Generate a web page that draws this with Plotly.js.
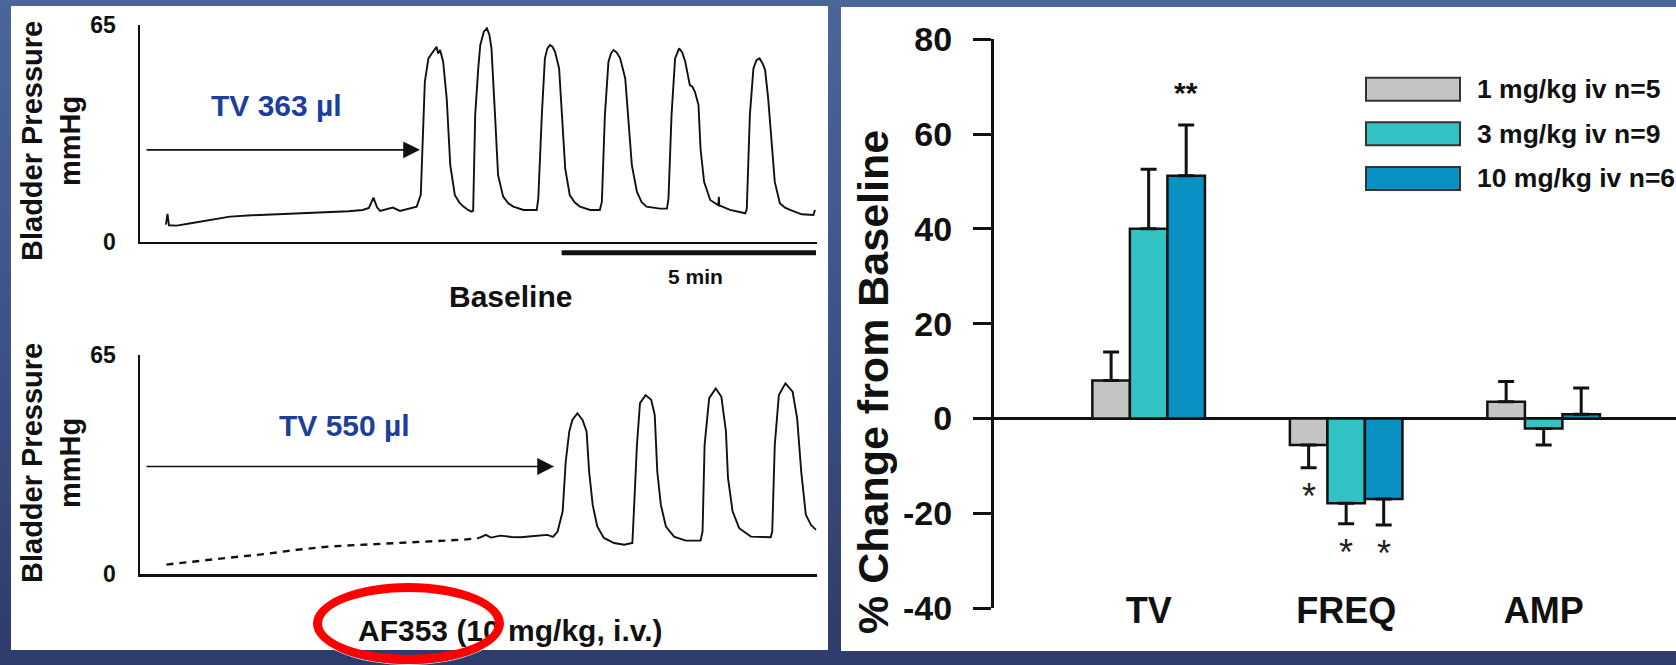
<!DOCTYPE html>
<html><head><meta charset="utf-8">
<script src="https://cdn.plot.ly/plotly-3.0.1.min.js"></script>
<style>
html,body{margin:0;padding:0;width:1676px;height:665px;overflow:hidden;}
body{background:linear-gradient(to bottom,#4b6699 0%,#3f5589 45%,#2e3b6b 100%);position:relative;}
#chart{position:absolute;left:0;top:0;width:1676px;height:665px;}
#ring{position:absolute;left:313px;top:583px;width:191px;height:81px;box-sizing:border-box;border:9px solid #ff0000;border-radius:50%;pointer-events:none;box-shadow:0 0 0 1px rgba(255,255,255,0.85);}
</style></head><body>
<div id="chart"></div><div id="ring"></div>
<script>
// ---------- Data: cystometry traces (time in min, pressure in mmHg) ----------
const baselineTime = [0.51,0.54,0.57,0.72,1.00,1.30,1.77,2.20,2.75,3.20,3.74,4.10,4.38,4.50,4.59,4.66,4.72,4.85,4.97,5.11,5.30,5.44,
  5.52,5.56,5.60,5.67,5.72,5.77,5.83,5.86,5.90,5.96,6.03,6.10,6.19,6.28,6.36,6.45,6.52,
  6.55,6.59,6.65,6.69,6.76,6.82,6.87,6.91,6.98,7.04,7.14,7.24,7.34,7.54,7.80,
  7.83,7.90,7.96,8.01,8.06,8.11,8.16,8.24,8.29,8.36,8.45,8.55,8.65,8.85,9.04,
  9.08,9.14,9.21,9.26,9.31,9.37,9.44,9.54,9.60,9.67,9.77,9.86,9.96,10.22,10.36,
  10.39,10.45,10.52,10.60,10.66,10.72,10.81,10.86,10.91,10.98,11.02,11.09,11.21,11.37,11.38,11.39,11.60,11.90,
  11.93,11.99,12.06,12.12,12.18,12.24,12.29,12.35,12.42,12.48,12.58,12.68,12.78,13.01,13.24,13.27];
const baselinePressure = [5.2,8.4,5.0,4.9,5.6,6.4,7.6,8.0,8.4,8.6,8.9,9.2,9.6,10.2,13.3,10.4,9.3,9.8,10.3,9.3,10.0,10.6,
  14.1,30,48,55,56,57,58.5,56.5,57.5,54,43,23,14,11.8,10.6,9.6,9.1,
  9.4,38,52,59,63,64,62,58,38,20,13.6,11.6,10.6,9.6,9.6,
  13,38,55,58,59,58.5,57,52,38,22,14,11.8,10.6,9.6,9.6,
  12,38,54,56.5,57.5,56.8,55,49,38,23,15,12,10.6,10,10,
  13,38,55,58,56.8,54,47,46.5,45,41,28,18,12.6,11,13.5,11,9.6,8.6,
  10,38,52,54.5,55,53.5,51.5,43,30,18,11.6,10.3,9.6,8.3,8.1,9.6];

// AF353 10 mg/kg: filling phase (sparsely sampled, dashed) then voiding contractions
const drugFillTime = [0.52,1.13,1.78,2.44,3.09,3.75,4.40,5.06,5.72,6.37,6.67];
const drugFillPressure = [2.8,3.9,4.9,5.9,7.2,8.2,8.7,9.2,9.7,10.2,10.7];
const drugTime = [6.67,6.70,6.80,6.90,7.09,7.30,7.49,7.75,8.01,8.12,8.21,
  8.31,8.37,8.44,8.50,8.60,8.70,8.78,8.83,8.90,8.99,9.12,9.32,9.52,9.68,
  9.71,9.77,9.83,9.94,10.05,10.12,10.17,10.24,10.34,10.50,10.73,11.02,
  11.06,11.10,11.19,11.32,11.43,11.52,11.56,11.65,11.78,12.01,12.40,
  12.43,12.48,12.56,12.69,12.83,12.92,13.00,13.09,13.19,13.29];
const drugPressure = [10.7,10.9,11.6,10.8,11.4,11.0,10.9,11.3,11.6,11.0,12.6,
  18.6,33.4,42.3,45.7,47.7,45.7,42.3,30.4,20.5,14.1,10.7,9.2,8.7,9.2,
  18.6,38.3,50.7,53.1,51.7,47.2,30.4,20.5,14.1,11.1,9.9,9.9,
  12.6,38.3,52.2,55.1,52.6,42.3,28.5,18.6,13.6,11.1,10.9,
  12.6,38.3,53.1,56.6,54.1,46.2,30.4,17.6,14.6,13.1];
const pressureTicks = [0, 65];
const scaleBarMinutes = 5;
const baselineVolume = 'TV 363 µl';
const drugVolume = 'TV 550 µl';

// ---------- Data: % change from baseline ----------
const categories = ['TV', 'FREQ', 'AMP'];
const doseNames = ['1 mg/kg iv n=5', '3 mg/kg iv n=9', '10 mg/kg iv n=6'];
const dose1Mean = [8.0, -5.6, 3.5];
const dose1Sem  = [6.0, 4.8, 4.3];
const dose3Mean = [40.0, -17.9, -2.1];
const dose3Sem  = [12.6, 4.3, 3.5];
const dose10Mean = [51.2, -17.0, 0.9];
const dose10Sem  = [10.7, 5.5, 5.5];
const dose1Sig  = ['', '*', ''];
const dose3Sig  = ['', '*', ''];
const dose10Sig = ['**', '*', ''];
const percentTicks = [-40, -20, 0, 20, 40, 60, 80];
const percentTickText = ['-40', '-20', '0', '20', '40', '60', '80'];

// ---------- Styling / layout ----------
const W = 1676, H = 665;
const px = x => x / W, py = y => 1 - y / H;
const FONT = '"Liberation Sans", Arial, Helvetica, sans-serif';
const doseColors = ['#c4c4c4', '#31c3c3', '#0891c2'];
const ink = '#111111';

const means = [dose1Mean, dose3Mean, dose10Mean];
const sems = [dose1Sem, dose3Sem, dose10Sem];
const sigs = [dose1Sig, dose3Sig, dose10Sig];

const traces = [
  {x: baselineTime, y: baselinePressure, xaxis: 'x', yaxis: 'y', type: 'scatter', mode: 'lines',
   line: {color: ink, width: 1.9}, showlegend: false, hoverinfo: 'skip'},
  {x: drugFillTime, y: drugFillPressure, xaxis: 'x2', yaxis: 'y2', type: 'scatter', mode: 'lines',
   line: {color: ink, width: 2.4, dash: '7px,6px'}, showlegend: false, hoverinfo: 'skip'},
  {x: drugTime, y: drugPressure, xaxis: 'x2', yaxis: 'y2', type: 'scatter', mode: 'lines',
   line: {color: ink, width: 1.9}, showlegend: false, hoverinfo: 'skip'}
];
doseNames.forEach((name, i) => {
  const v = means[i], e = sems[i];
  traces.push({
    type: 'bar', name: name, x: categories, y: v, xaxis: 'x3', yaxis: 'y3',
    marker: {color: doseColors[i], line: {color: ink, width: 2.5}},
    error_y: {type: 'data', symmetric: false,
      array: v.map((d, j) => d >= 0 ? e[j] : 0),
      arrayminus: v.map((d, j) => d < 0 ? e[j] : 0),
      color: ink, thickness: 3, width: 8},
    showlegend: false, hoverinfo: 'skip'
  });
});

const tAxisRange = [0, 13.31];
const bold = (size, color) => ({family: FONT, size: size, color: color || ink, weight: 700});

// category geometry for the grouped bars
const catRange = [-0.783, 2.67];
const bargap = 0.43;
const catPx = (W - 994) / (catRange[1] - catRange[0]);
const barPx = (1 - bargap) / 3 * catPx;

const annotations = [
  // left panel texts
  {xref: 'paper', yref: 'paper', x: px(51), y: py(141), text: 'Bladder Pressure<br>mmHg', textangle: -90,
   showarrow: false, font: bold(29), xanchor: 'center', yanchor: 'middle'},
  {xref: 'paper', yref: 'paper', x: px(51), y: py(463), text: 'Bladder Pressure<br>mmHg', textangle: -90,
   showarrow: false, font: bold(29), xanchor: 'center', yanchor: 'middle'},
  {xref: 'paper', yref: 'paper', x: px(276), y: py(105.5), text: baselineVolume, showarrow: false,
   font: bold(30, '#1d3f9c'), xanchor: 'center', yanchor: 'middle'},
  {xref: 'paper', yref: 'paper', x: px(344), y: py(425), text: drugVolume, showarrow: false,
   font: bold(30, '#1d3f9c'), xanchor: 'center', yanchor: 'middle'},
  {xref: 'paper', yref: 'paper', x: px(511), y: py(296), text: 'Baseline', showarrow: false,
   font: bold(30), xanchor: 'center', yanchor: 'middle'},
  {xref: 'paper', yref: 'paper', x: px(695), y: py(276), text: scaleBarMinutes + ' min', showarrow: false,
   font: bold(21), xanchor: 'center', yanchor: 'middle'},
  {xref: 'paper', yref: 'paper', x: px(511), y: py(630), text: 'AF353 (10 mg/kg, i.v.)', showarrow: false,
   font: bold(30), xanchor: 'center', yanchor: 'middle'},
  // arrows to the first contraction
  {xref: 'x', yref: 'y', x: 5.505, y: 27.6, axref: 'x', ayref: 'y', ax: 0.1, ay: 27.6, text: '',
   showarrow: true, arrowhead: 2, arrowsize: 2.1, arrowwidth: 1.6, arrowcolor: ink},
  {xref: 'x2', yref: 'y2', x: 8.14, y: 31.9, axref: 'x2', ayref: 'y2', ax: 0.1, ay: 31.9, text: '',
   showarrow: true, arrowhead: 2, arrowsize: 2.1, arrowwidth: 1.6, arrowcolor: ink},
  // right panel y title
  {xref: 'paper', yref: 'paper', x: px(873), y: py(382), text: '% Change from Baseline', textangle: -90,
   showarrow: false, font: bold(43), xanchor: 'center', yanchor: 'middle'}
];

// significance marks
sigs.forEach((arr, i) => arr.forEach((s, j) => {
  if (!s) return;
  const v = means[i][j], e = sems[i][j];
  const dir = v >= 0 ? 1 : -1;
  annotations.push({xref: 'x3', yref: 'y3', x: categories[j], y: v + dir * (e + 6.5),
    xshift: (i - 1) * barPx, yshift: s.length > 1 ? 1.5 : 2, text: s, showarrow: false,
    font: s.length > 1 ? bold(30) : {family: FONT, size: 36, color: '#222'},
    xanchor: 'center', yanchor: 'middle'});
}));

const shapes = [
  {type: 'rect', xref: 'paper', yref: 'paper', x0: px(11), x1: px(828), y0: py(650), y1: py(6),
   fillcolor: '#ffffff', line: {width: 0}, layer: 'below'},
  {type: 'rect', xref: 'paper', yref: 'paper', x0: px(841), x1: 1, y0: py(651), y1: py(7),
   fillcolor: '#ffffff', line: {width: 0}, layer: 'below'},
  {type: 'line', xref: 'x', yref: 'paper', x0: 13.29 - scaleBarMinutes, x1: 13.29, y0: py(252.7), y1: py(252.7),
   line: {color: ink, width: 5}}
];
// legend (drawn manually: wide swatches)
doseNames.forEach((name, i) => {
  const top = 77.7 + 44.6 * i;
  shapes.push({type: 'rect', xref: 'paper', yref: 'paper', x0: px(1366), x1: px(1460), y0: py(top + 23), y1: py(top),
    fillcolor: doseColors[i], line: {color: '#333', width: 2}});
  annotations.push({xref: 'paper', yref: 'paper', x: px(1475), y: py(top + 11.5), text: name, showarrow: false,
    font: bold(26.5), xanchor: 'left', yanchor: 'middle'});
});

const noGrid = {showgrid: false, zeroline: false, fixedrange: true};
const layout = {
  width: W, height: H, margin: {l: 0, r: 0, t: 0, b: 0},
  paper_bgcolor: 'rgba(0,0,0,0)', plot_bgcolor: 'rgba(0,0,0,0)',
  font: {family: FONT, color: ink},
  showlegend: false, barmode: 'group', bargap: bargap, bargroupgap: 0,
  xaxis: Object.assign({}, noGrid, {domain: [px(140), px(817)], range: tAxisRange, anchor: 'y',
    showline: true, linecolor: ink, linewidth: 2.2, showticklabels: false, ticks: ''}),
  yaxis: Object.assign({}, noGrid, {domain: [py(242), py(25)], range: [0, 65], anchor: 'x',
    tickvals: pressureTicks, ticks: '', ticklabelstandoff: 17, showline: true, linecolor: ink, linewidth: 2.5,
    tickfont: bold(23)}),
  xaxis2: Object.assign({}, noGrid, {domain: [px(140), px(817)], range: tAxisRange, anchor: 'y2',
    showline: true, linecolor: ink, linewidth: 2.5, showticklabels: false, ticks: ''}),
  yaxis2: Object.assign({}, noGrid, {domain: [py(574), py(355)], range: [0, 65], anchor: 'x2',
    tickvals: pressureTicks, ticks: '', ticklabelstandoff: 17, showline: true, linecolor: ink, linewidth: 2.5,
    tickfont: bold(23)}),
  xaxis3: {domain: [px(994), 1], range: catRange, type: 'category', anchor: 'free', position: py(586),
    showline: false, ticks: '', showgrid: false, zeroline: false, fixedrange: true, tickfont: bold(36)},
  yaxis3: {domain: [py(608), py(39.3)], range: [-40, 80], anchor: 'x3',
    tickvals: percentTicks, ticktext: percentTickText, ticks: 'outside', ticklen: 18, tickwidth: 3, tickcolor: ink,
    ticklabelstandoff: 14, showline: true, linecolor: ink, linewidth: 3, showgrid: false,
    zeroline: true, zerolinecolor: ink, zerolinewidth: 3, fixedrange: true, tickfont: bold(34)},
  shapes: shapes,
  annotations: annotations
};

Plotly.newPlot('chart', traces, layout, {displayModeBar: false, staticPlot: true});
</script></body></html>
